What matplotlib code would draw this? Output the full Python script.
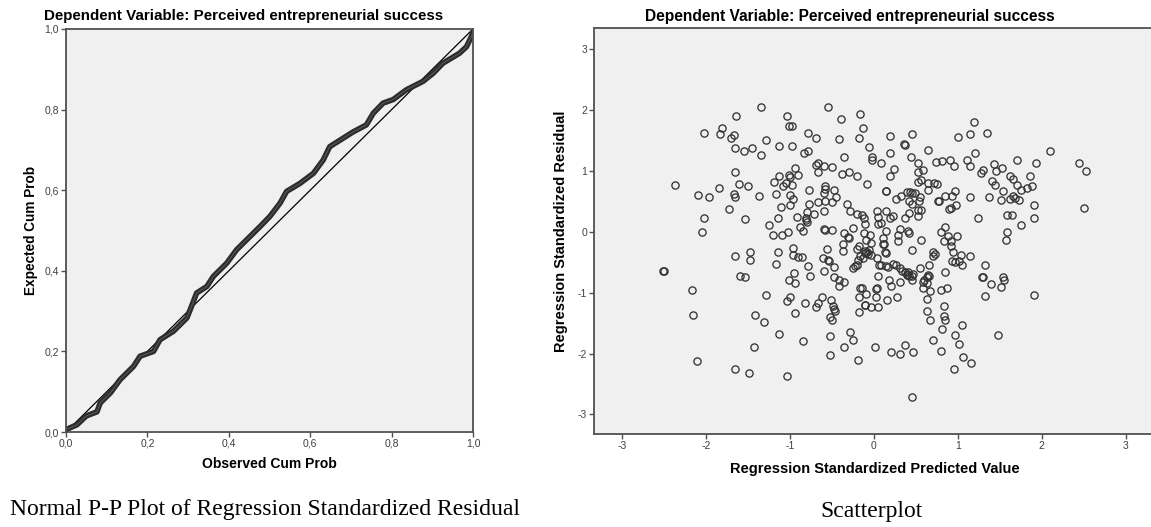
import numpy as np
import matplotlib
matplotlib.use('Agg')
import matplotlib.pyplot as plt

plt.rcParams['font.family'] = ['Liberation Sans', 'DejaVu Sans']

#%% data ---------------------------------------------------------------
# P-P plot: observed cum prob vs expected cum prob
obs_cum = [0.000, 0.027, 0.050, 0.076, 0.084, 0.109, 0.133, 0.166, 0.182, 0.215,
           0.231, 0.264, 0.297, 0.305, 0.321, 0.346, 0.362, 0.395, 0.419, 0.444,
           0.477, 0.501, 0.526, 0.542, 0.575, 0.608, 0.632, 0.648, 0.673, 0.706,
           0.738, 0.755, 0.779, 0.804, 0.836, 0.877, 0.902, 0.926, 0.967, 0.984,
           0.996, 1.000]
exp_cum = [0.006, 0.018, 0.040, 0.050, 0.072, 0.097, 0.130, 0.163, 0.188, 0.200,
           0.229, 0.250, 0.283, 0.303, 0.345, 0.361, 0.386, 0.419, 0.452, 0.477,
           0.510, 0.535, 0.568, 0.597, 0.617, 0.642, 0.675, 0.708, 0.724, 0.745,
           0.762, 0.791, 0.816, 0.825, 0.849, 0.870, 0.890, 0.915, 0.940, 0.956,
           0.981, 0.993]
pp_ticks = [0.0, 0.2, 0.4, 0.6, 0.8, 1.0]
pp_ticklabels = ['0,0', '0,2', '0,4', '0,6', '0,8', '1,0']

# scatterplot: standardized predicted value vs standardized residual
pred = [-1.35, -0.55, -0.17, -1.64, -1.04, 1.19, -1.81, -1.01, -0.97, -0.39,
        -0.13, -2.03, -1.83, -1.67, -1.70, -0.78, -0.69, -0.42, -0.18, 0.19,
        0.45, 1.00, 1.15, 1.35, -1.28, 0.36, 0.37, -1.65, -1.55, -1.45,
        -1.13, -0.97, -0.06, 0.65, 2.10, -0.83, -0.79, 0.19, 1.21, -1.35,
        -0.35, -0.02, -0.02, 0.44, 0.09, 0.74, 0.81, 0.91, 1.11, 1.71,
        2.44, 1.43, 1.93, 0.53, -0.69, -0.66, -0.60, -0.50, -0.94, 0.96,
        1.15, 1.53, 0.24, 0.59, 0.52, 1.30, 1.28, 1.45, 2.53, -1.65,
        -0.67, -1.13, -1.01, -1.00, -0.91, -0.38, -0.30, -0.20, 0.19, 1.62,
        1.86, 1.66, -1.19, -1.05, -1.08, 0.56, 0.52, 0.64, 0.72, 0.75,
        1.41, 1.44, 1.71, -2.37, -1.85, -1.61, -1.50, -0.97, -0.58, -0.58,
        -0.08, -0.77, -0.48, 0.65, 0.97, 1.54, 1.75, 1.83, 1.89, 0.14,
        0.15, 0.40, 0.43, 0.46, 0.49, -2.10, -1.96, -1.67, -1.66, -1.37,
        -1.17, -1.00, -0.96, -0.45, 0.26, 0.32, 0.55, 0.77, 0.78, 0.85,
        0.93, 1.15, 1.37, 1.51, 1.62, 1.66, 1.68, 1.73, -0.66, -0.58,
        -0.50, 0.42, 0.54, 1.91, 0.98, -1.11, -1.00, -0.77, -0.32, 0.45,
        2.50, -1.73, -0.60, -0.28, 0.04, 0.15, 0.42, 0.52, 0.56, 0.89,
        0.92, -0.80, -0.71, -0.20, -0.14, -0.12, 0.05, 0.08, 0.23, 0.19,
        0.52, 1.59, 1.65, -2.02, -1.54, -1.14, -0.92, -0.81, -0.80, 0.37,
        1.24, 1.91, 0.05, -0.11, -1.25, -0.88, 0.85, 1.75, -0.25, -0.60,
        -0.58, -0.50, -0.85, 0.14, 0.31, 0.41, 0.42, -2.05, -1.02, 0.80,
        1.59, -1.20, -1.10, -0.36, -0.31, -0.30, -0.12, -0.05, 0.29, 0.88,
        0.99, 0.11, 0.83, 0.92, 1.58, -0.09, 0.56, 0.29, -0.03, 0.11,
        0.12, -0.37, -0.18, -0.20, -0.11, -0.08, 0.92, -0.37, -0.56, -0.96,
        -1.14, -1.48, 0.13, 0.46, 0.70, 0.73, 0.70, 0.94, 1.04, -0.07,
        -0.10, -0.04, -0.17, -0.19, 1.15, -1.66, -0.96, -0.90, -0.86, -0.61,
        -0.55, -1.48, 0.04, 0.93, 0.97, 1.02, -1.17, -0.78, -0.47, -0.23,
        -0.20, -0.25, 0.06, 0.14, 0.17, 0.23, 0.26, 0.66, 1.05, 1.32,
        0.55, 0.31, 0.34, 0.40, 0.41, 0.42, 0.37, 0.45, 0.46, -0.60,
        -2.51, -2.50, 0.85, -0.95, 0.05, 0.66, 0.63, -1.59, -1.54, -0.76,
        -0.47, -0.42, 1.29, 1.30, 1.54, 1.55, -1.01, 0.18, 0.60, 0.31,
        0.59, -0.35, -0.94, -0.42, 0.21, 1.40, -0.14, 0.03, 0.04, 0.87,
        0.80, 1.52, 0.58, -2.17, 0.67, -0.09, -1.28, 1.91, 1.33, -0.18,
        0.27, -1.00, -0.62, 0.02, -1.03, -0.51, 0.16, 0.63, -0.66, -0.69,
        -0.82, -0.11, -0.03, 0.05, 0.83, -0.49, -0.48, -0.46, -0.94, -0.18,
        0.63, -2.16, -1.42, -0.52, -0.50, 0.84, 0.85, 0.67, -1.31, 1.05,
        0.81, -0.28, -1.13, 1.48, -0.52, 0.97, -0.25, -0.85, 0.70, 1.01,
        0.37, -1.43, -0.35, 0.01, 0.20, 0.80, 0.31, 0.47, -0.52, 1.06,
        -0.19, -2.11, 1.16, -1.65, 0.96, -1.49, -1.04, 0.45, -0.60, -0.81,
        -0.06, -0.13, 0.14, 0.47, 0.39, -0.54, 0.08, 0.65, 0.63, -0.10, -0.16]
resid = [2.05, 2.04, 1.93, 1.90, 1.89, 1.80, 1.70, 1.74, 1.73, 1.84,
         1.70, 1.62, 1.60, 1.59, 1.54, 1.61, 1.53, 1.52, 1.54, 1.57,
         1.60, 1.55, 1.60, 1.61, 1.50, 1.43, 1.42, 1.37, 1.33, 1.37,
         1.40, 1.40, 1.39, 1.34, 1.32, 1.29, 1.32, 1.29, 1.29, 1.26,
         1.23, 1.23, 1.17, 1.22, 1.13, 1.15, 1.16, 1.18, 1.18, 1.17,
         1.13, 1.11, 1.12, 1.12, 1.09, 1.12, 1.08, 1.06, 1.05, 1.08,
         1.07, 1.04, 1.02, 1.01, 0.98, 1.01, 0.96, 1.00, 0.99, 0.97,
         0.97, 0.92, 0.93, 0.90, 0.93, 0.94, 0.97, 0.92, 0.92, 0.91,
         0.92, 0.87, 0.82, 0.80, 0.75, 0.84, 0.81, 0.80, 0.80, 0.78,
         0.83, 0.77, 0.77, 0.77, 0.72, 0.78, 0.74, 0.77, 0.74, 0.70,
         0.78, 0.69, 0.68, 0.69, 0.66, 0.66, 0.69, 0.71, 0.75, 0.67,
         0.66, 0.65, 0.65, 0.64, 0.64, 0.60, 0.57, 0.62, 0.56, 0.58,
         0.62, 0.60, 0.53, 0.56, 0.54, 0.59, 0.56, 0.51, 0.50, 0.58,
         0.59, 0.57, 0.56, 0.52, 0.53, 0.58, 0.55, 0.52, 0.49, 0.50,
         0.48, 0.50, 0.50, 0.44, 0.44, 0.41, 0.43, 0.45, 0.45, 0.46,
         0.38, 0.37, 0.34, 0.34, 0.34, 0.34, 0.31, 0.35, 0.35, 0.37,
         0.38, 0.32, 0.29, 0.29, 0.27, 0.23, 0.24, 0.14, 0.25, 0.22,
         0.25, 0.28, 0.28, 0.22, 0.20, 0.22, 0.24, 0.19, 0.15, 0.22,
         0.22, 0.22, 0.13, 0.13, 0.11, 0.08, 0.07, 0.11, 0.06, 0.04,
         0.02, 0.03, 0.01, 0.01, 0.04, 0.01, -0.02, 0.00, 0.00, -0.01,
         0.00, -0.06, -0.06, -0.02, -0.09, -0.10, -0.03, -0.06, -0.06, -0.07,
         -0.08, -0.11, -0.16, -0.15, -0.14, -0.14, -0.14, -0.16, -0.18, -0.20,
         -0.21, -0.20, -0.24, -0.28, -0.31, -0.34, -0.24, -0.31, -0.28, -0.27,
         -0.33, -0.33, -0.34, -0.30, -0.33, -0.37, -0.40, -0.33, -0.38, -0.37,
         -0.35, -0.39, -0.40, -0.46, -0.40, -0.40, -0.39, -0.41, -0.41, -0.43,
         -0.47, -0.46, -0.43, -0.48, -0.50, -0.48, -0.53, -0.56, -0.58, -0.57,
         -0.55, -0.59, -0.55, -0.56, -0.58, -0.53, -0.55, -0.55, -0.55, -0.54,
         -0.59, -0.59, -0.64, -0.70, -0.67, -0.73, -0.66, -0.73, -0.79, -0.64,
         -0.64, -0.65, -0.66, -0.68, -0.73, -0.72, -0.75, -0.72, -0.74, -0.73,
         -0.75, -0.79, -0.74, -0.75, -0.75, -0.79, -0.79, -0.79, -0.80, -0.83,
         -0.83, -0.83, -0.85, -0.89, -0.89, -0.86, -0.93, -0.94, -0.93, -0.92,
         -0.95, -0.91, -0.92, -0.95, -0.97, -1.02, -1.04, -1.04, -1.06, -1.07,
         -1.07, -1.07, -1.08, -1.07, -1.14, -1.12, -1.13, -1.11, -1.17, -1.24,
         -1.17, -1.21, -1.23, -1.23, -1.22, -1.22, -1.27, -1.31, -1.34, -1.32,
         -1.30, -1.37, -1.37, -1.40, -1.45, -1.39, -1.45, -1.45, -1.49, -1.54,
         -1.59, -1.64, -1.68, -1.69, -1.71, -1.70, -1.78, -1.80, -1.78, -1.85,
         -1.86, -1.90, -1.89, -1.89, -1.97, -1.96, -2.01, -1.97, -2.02, -2.06,
         -2.11, -2.12, -2.15, -2.26, -2.25, -2.32, -2.37, -2.72, 0.64, 0.22,
         -0.30, -0.44, -0.35, -0.69, -0.71, -0.49, -0.55, -0.71, -0.84, -1.20, -0.93]
sc_ticks = [-3, -2, -1, 0, 1, 2, 3]
sc_ticklabels = ['-3', '-2', '-1', '0', '1', '2', '3']

title = 'Dependent Variable: Perceived entrepreneurial success'

#%% figure ---------------------------------------------------------------
W, H = 1151, 527
fig = plt.figure(figsize=(W / 100, H / 100), dpi=100)
fig.patch.set_facecolor('white')

def px_axes(l, t, r, b):
    return fig.add_axes([l / W, 1 - b / H, (r - l) / W, (b - t) / H])

def style(ax, fs):
    ax.set_facecolor('#f0f0f0')
    for s in ['top', 'right', 'left', 'bottom']:
        ax.spines[s].set_color('#505050')
        ax.spines[s].set_linewidth(1.3)
    ax.tick_params(direction='out', length=3.5, width=1, color='#505050',
                   labelsize=fs, labelcolor='#404040', pad=1.5)

# left: normal P-P plot
ax1 = px_axes(66, 29, 473, 432)
style(ax1, 7.5)
ax1.plot([0, 1], [0, 1], color='black', lw=0.9)
ax1.plot(obs_cum, exp_cum, color='#2c2c2c', lw=4.0, solid_capstyle='round',
         solid_joinstyle='round')
ax1.plot(obs_cum, exp_cum, color='#5c5c5c', lw=0.7)
ax1.set_xlim(0, 1)
ax1.set_ylim(0, 1)
ax1.set_xticks(pp_ticks)
ax1.set_xticklabels(pp_ticklabels)
ax1.set_yticks(pp_ticks)
ax1.set_yticklabels(pp_ticklabels)
ax1.set_xlabel('Observed Cum Prob', fontsize=10, fontweight='bold', labelpad=6)
ax1.set_ylabel('Expected Cum Prob', fontsize=9.8, fontweight='bold', labelpad=5)

# right: scatterplot
ax2 = px_axes(594, 28, 1155, 434)
style(ax2, 7.5)
ax2.plot(pred, resid, 'o', ms=5.2, mfc='none', mec='#333333', mew=0.95)
ax2.set_xlim(-3.335, 3.35)
ax2.set_ylim(-3.32, 3.34)
ax2.set_xticks(sc_ticks)
ax2.set_xticklabels(sc_ticklabels)
ax2.set_yticks(sc_ticks)
ax2.set_yticklabels(sc_ticklabels)
ax2.set_xlabel('Regression Standardized Predicted Value', fontsize=10.5,
               fontweight='bold', labelpad=8)
ax2.set_ylabel('Regression Standardized Residual', fontsize=10.5,
               fontweight='bold', labelpad=7)

# titles and captions
fig.text(244 / W, 1 - 16 / H, title, ha='center', va='center',
         fontsize=10.9, fontweight='bold')
fig.text(850 / W, 1 - 16 / H, title, ha='center', va='center',
         fontsize=11.2, fontweight='bold')
fig.text(10 / W, 1 - 510 / H, 'Normal P-P Plot of Regression Standardized Residual',
         ha='left', va='center', fontsize=17, family='Liberation Serif')
fig.text(872 / W, 1 - 511 / H, 'Scatterplot', ha='center', va='center',
         fontsize=17, family='Liberation Serif')

fig.savefig('out.png', dpi=100, facecolor='white')
